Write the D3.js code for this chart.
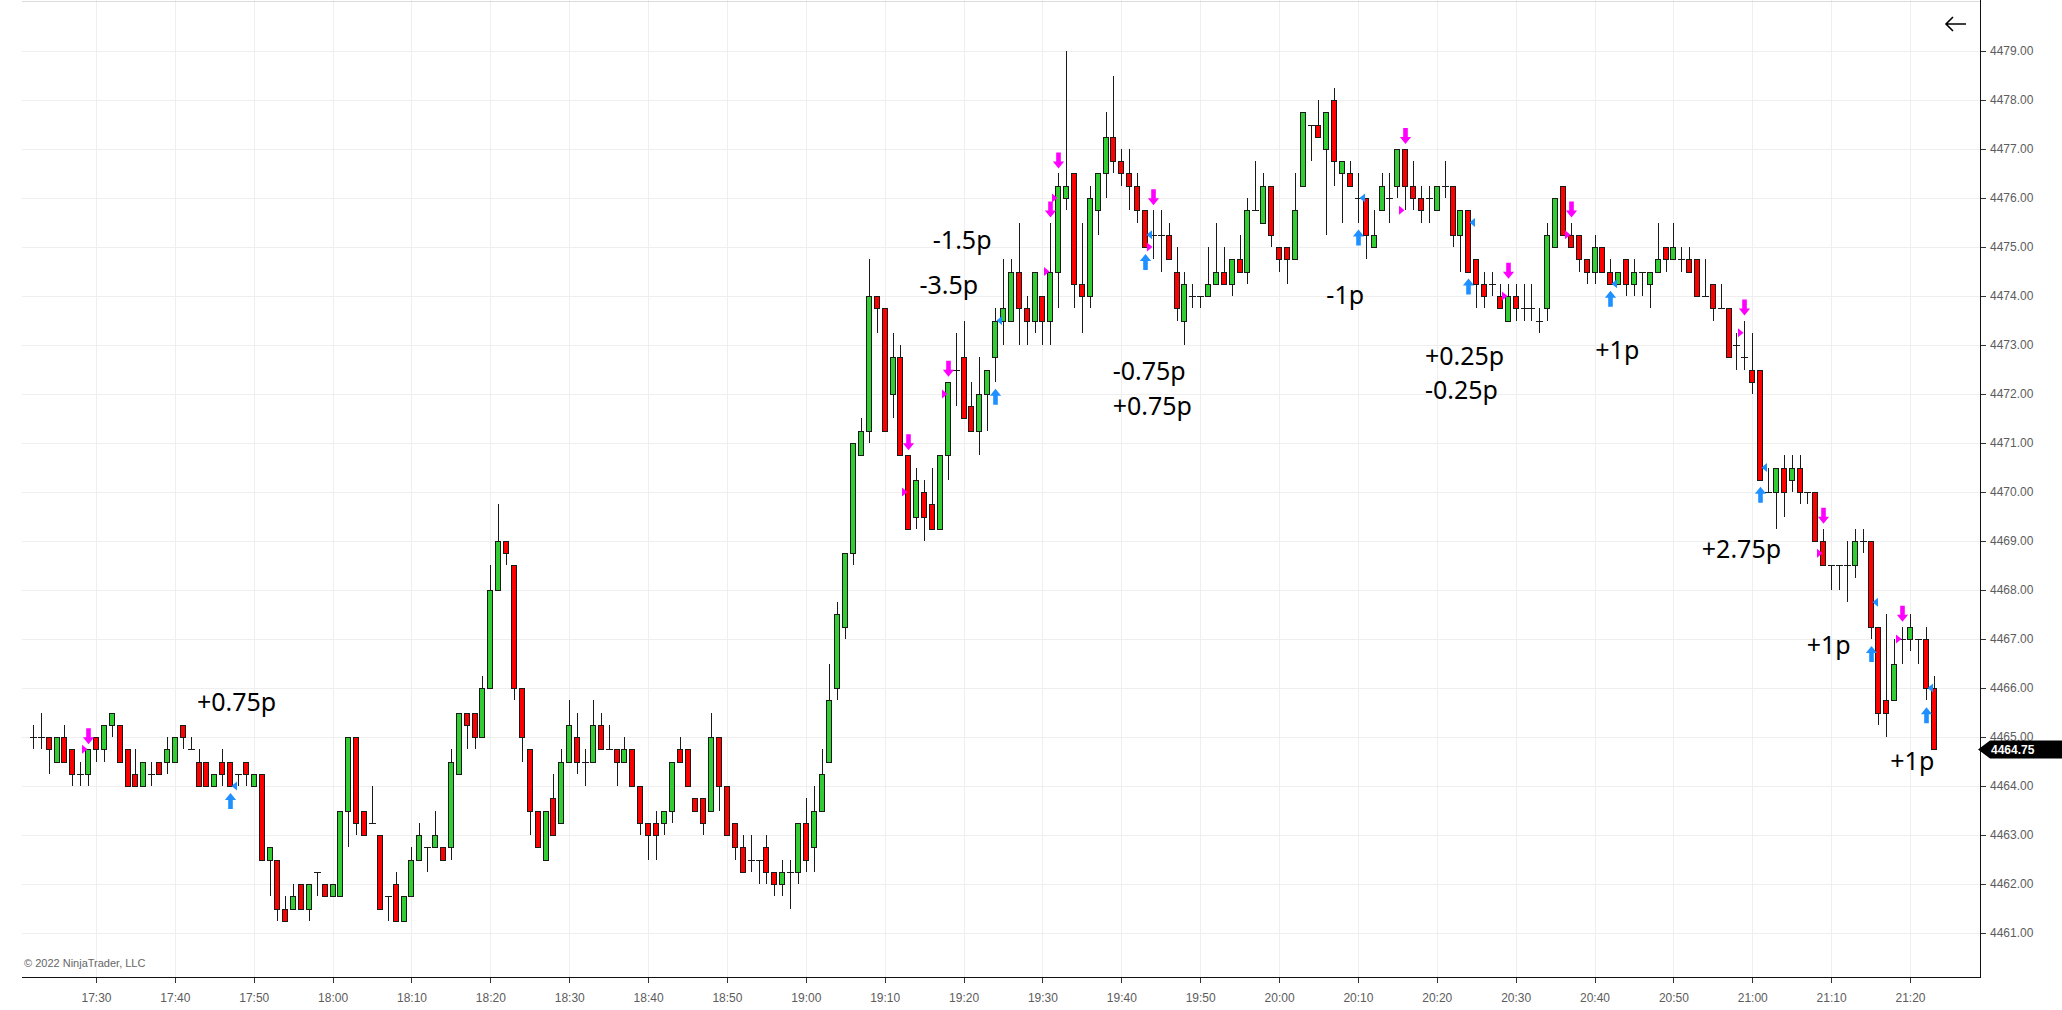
<!DOCTYPE html>
<html>
<head>
<meta charset="utf-8">
<script src="https://cdn.jsdelivr.net/npm/d3@7"></script>
<style>
html,body{margin:0;padding:0;background:#fff;overflow:hidden}
svg{display:block}
</style>
</head>
<body>
<svg id="chart" width="2062" height="1010"></svg>
<script>
// ---------------- DATA ----------------
const firstBarTime = "17:22";          // one-minute bars
const opens = [
 4465,4465,4465,4464.5,4465,4464.75,4464.25,4464.25,4465,4464.75,
 4465.25,4465.25,4464.75,4464.25,4464,4464.25,4464.5,4464.5,4464.5,4465.25,
 4464.75,4464.5,4464.5,4464,4464.5,4464.5,4464.25,4464.5,4464,4464.25,
 4462.5,4462.5,4461.5,4461.5,4462,4461.5,4462.25,4462,4461.75,4461.75,
 4463.5,4465,4463.5,4463.25,4463,4461.75,4462,4461.25,4461.75,4462.5,
 4462.75,4462.75,4462.75,4462.75,4464.25,4465.5,4465.5,4465,4466,4468,
 4469,4468.5,4466,4464.75,4463.5,4462.5,4463.75,4463.25,4464.5,4465,
 4464.5,4464.5,4465.25,4464.75,4464.75,4464.5,4464.75,4464,4463.25,4463.25,
 4463.25,4463.5,4464.75,4464.75,4463.75,4463.75,4463.5,4465,4464,4463.25,
 4462.75,4462.5,4462.5,4462.75,4462.25,4462,4462.25,4462.25,4463.25,4462.75,
 4463.5,4464.5,4466,4467.25,4468.75,4470.75,4471.25,4474,4473.75,4472,
 4472.75,4470.75,4469.5,4470,4469.75,4469.25,4470.75,4472.5,4472.75,4471.75,
 4471.25,4472,4472.75,4473.5,4473.5,4474.5,4473.75,4473.5,4474,4473.5,
 4474.5,4476,4476.5,4474.25,4474,4475.75,4476.5,4477.25,4476.75,4476.5,
 4476.25,4475.75,4475.25,4475.25,4475.25,4474.5,4473.5,4474,4474,4474,
 4474.25,4474.5,4474.25,4474.75,4474.5,4475.75,4475.5,4476.25,4475,4475,
 4474.75,4476.25,4477.5,4477.5,4477,4478,4476.5,4476.5,4476,4476,
 4475,4475.75,4476,4476.25,4477,4476.25,4476,4476,4475.75,4476.25,
 4476.25,4475.25,4475.75,4474.75,4474.25,4474.25,4474,4473.5,4474,4473.75,
 4473.75,4473.5,4473.75,4475,4476.25,4475.25,4475.25,4474.75,4474.5,4475,
 4474.5,4474.25,4474.75,4474.25,4474.5,4474.25,4474.5,4475,4474.75,4474.75,
 4474.75,4474.75,4474,4474.25,4473.75,4473.75,4473,4472.75,4472.5,4472.5,
 4470,4470,4470.5,4470.25,4470.5,4470,4470,4469,4468.5,4468.5,
 4468.5,4468.5,4469,4469,4467.25,4465.75,4465.75,4467,4467,4467,
 4467,4466
];
const highs = [
 4465.25,4465.5,4465,4465,4465.25,4464.75,4464.5,4464.75,4465,4465.25,
 4465.5,4465.25,4464.75,4464.75,4464.5,4464.5,4464.5,4465,4465,4465.25,
 4465,4464.75,4464.5,4464.25,4464.75,4464.5,4464.25,4464.5,4464.25,4464.25,
 4462.75,4462.5,4461.75,4462,4462,4462,4462.25,4462,4462,4463.5,
 4465,4465,4463.5,4464,4463,4461.75,4462.25,4461.75,4462.75,4463.25,
 4462.75,4463.5,4462.75,4464.75,4465.5,4465.5,4465.5,4466.25,4468.5,4469.75,
 4469,4468.5,4466,4464.75,4463.5,4463.5,4464.25,4464.75,4465.75,4465.5,
 4464.75,4465.75,4465.5,4465.25,4464.75,4465,4464.75,4464,4463.25,4463.5,
 4463.5,4464.5,4465,4464.75,4463.75,4463.75,4465.5,4465,4464,4463.25,
 4463,4463,4462.5,4463,4462.25,4462.5,4462.5,4463.25,4463.75,4464,
 4464.75,4466.5,4467.75,4468.75,4471,4471.5,4474.75,4474,4473.75,4473.25,
 4473,4470.75,4470.5,4470.25,4470.5,4470.75,4472.25,4473.25,4473.5,4472.25,
 4472.75,4472.5,4473.75,4474.75,4474.75,4475.5,4474,4474.5,4474,4475.5,
 4476.5,4479,4476.5,4475.5,4476.25,4476.5,4477.75,4478.5,4477,4477,
 4476.5,4475.75,4475.75,4475.75,4475.5,4475,4474.5,4474.25,4474,4475,
 4475.5,4475,4474.75,4475.25,4476,4476.75,4476.5,4476.25,4475,4475,
 4476.5,4477.75,4477.5,4478,4477.75,4478.25,4476.75,4476.75,4476.5,4476,
 4475.75,4476.5,4476.5,4477,4477,4476.75,4476.25,4476.25,4476.25,4476.75,
 4476.25,4475.75,4475.75,4474.75,4474.5,4474.5,4474.25,4474.25,4474.25,4474.25,
 4474.25,4473.75,4475.5,4476,4476.25,4475.5,4475.25,4474.75,4475.25,4475,
 4474.75,4474.5,4474.75,4474.75,4474.5,4474.5,4475.5,4475,4475.5,4475,
 4475,4474.75,4474.75,4474.25,4474.25,4473.75,4473.25,4473.5,4473.25,4472.5,
 4470.5,4470.5,4470.75,4470.75,4470.75,4470,4470,4469.25,4468.5,4468.5,
 4469,4469.25,4469.25,4469,4467.25,4467.5,4467,4467.25,4467.5,4467,
 4467.25,4466.25
];
const lows = [
 4464.75,4464.75,4464.25,4464.5,4464.5,4464,4464,4464,4464.5,4464.5,
 4465,4464.5,4464,4464,4464,4464,4464.25,4464.25,4464.5,4464.75,
 4464.75,4464,4464,4464,4464,4464,4464,4464,4464,4462.5,
 4461.75,4461.25,4461.25,4461.5,4461.5,4461.25,4461.75,4461.75,4461.75,4461.75,
 4462.75,4463,4463,4463.25,4461.5,4461.25,4461.25,4461.25,4461.75,4462.5,
 4462.25,4462.75,4462.5,4462.5,4464.25,4464.75,4464.75,4465,4466,4468,
 4468.5,4465.75,4464.5,4463,4462.75,4462.5,4463,4463.25,4464.5,4464.25,
 4464,4464.5,4464.75,4464.75,4464,4464.5,4464,4463,4462.5,4462.5,
 4463,4463.25,4464.5,4464,4463.5,4463,4463.5,4463.5,4463,4462.5,
 4462.25,4462.25,4462,4462,4461.75,4461.75,4461.5,4462,4462.25,4462.25,
 4463.5,4464.5,4465.75,4467,4468.5,4470.75,4471,4473.25,4471.25,4471.5,
 4470.75,4469.25,4469.25,4469,4469.25,4469.25,4470.25,4471.75,4471.5,4471.25,
 4470.75,4471.25,4472.25,4473,4473.5,4473,4473,4473.25,4473,4473,
 4473.75,4475.75,4473.75,4473.25,4473.75,4475.25,4476,4476.5,4476.25,4475.75,
 4475.5,4475,4474.75,4474.5,4474.75,4473.5,4473,4473.75,4473.75,4474,
 4474.25,4474.25,4474,4474.5,4474.25,4475.75,4475.5,4475,4474.5,4474.25,
 4474.75,4476.25,4476.75,4477.25,4475.25,4476.25,4475.5,4476.25,4475.5,4474.75,
 4475,4475.75,4475.5,4476,4475.75,4475.75,4475.5,4475.5,4475.75,4476,
 4475,4474.5,4474.5,4473.75,4473.75,4474,4473.75,4473.5,4473.5,4473.5,
 4473.5,4473.25,4473.5,4475,4475.25,4475,4474.5,4474.25,4474.25,4474.5,
 4474.25,4474.25,4474,4474,4474,4473.75,4474.5,4474.5,4474.75,4474.5,
 4474.5,4474,4474,4473.5,4473.75,4472.75,4472.5,4472.5,4472,4470.25,
 4470,4469.25,4469.5,4470,4469.75,4469.75,4469,4468.5,4468,4468,
 4467.75,4468.25,4468.75,4467,4465.25,4465,4465.75,4466.5,4466.75,4466.5,
 4465.75,4464.75
];
const closes = [
 4465,4465,4464.75,4465,4464.5,4464.25,4464.25,4464.75,4464.75,4465.25,
 4465.5,4464.5,4464,4464,4464.5,4464.25,4464.25,4464.75,4465,4465,
 4464.75,4464,4464,4464.25,4464.25,4464,4464.25,4464.25,4464.25,4462.5,
 4462.75,4461.5,4461.25,4461.75,4461.5,4462,4462.25,4461.75,4462,4463.5,
 4465,4463.25,4463,4463.25,4461.5,4461.75,4461.25,4461.75,4462.5,4463,
 4462.75,4463,4462.5,4464.5,4465.5,4465.25,4465,4466,4468,4469,
 4468.75,4466,4465,4463.5,4462.75,4463.5,4463,4464.5,4465.25,4464.5,
 4464.5,4465.25,4464.75,4464.75,4464.5,4464.75,4464,4463.25,4463,4463,
 4463.5,4464.5,4464.5,4464,4463.5,4463.25,4465,4464,4463,4462.75,
 4462.25,4462.5,4462.5,4462.25,4462,4462.25,4462.25,4463.25,4462.5,4463.5,
 4464.25,4465.75,4467.5,4468.75,4471,4471.25,4474,4473.75,4471.25,4472.75,
 4470.75,4469.25,4470.25,4469.5,4469.25,4470.75,4472.25,4472.5,4471.5,4471.25,
 4472,4472.5,4473.5,4473.75,4474.5,4473.75,4473.5,4474.5,4473.5,4474.5,
 4476.25,4476.25,4474.25,4474,4476,4476.5,4477.25,4476.75,4476.5,4476.25,
 4475.75,4475,4475.25,4475.25,4474.75,4473.75,4474.25,4474,4474,4474.25,
 4474.5,4474.25,4474.75,4474.5,4475.75,4475.75,4476.25,4475.25,4474.75,4474.75,
 4475.75,4477.75,4477.5,4477.25,4477.75,4476.75,4476.75,4476.25,4476,4475.25,
 4475.25,4476.25,4476,4477,4476.25,4476,4475.75,4476,4476.25,4476.25,
 4475.25,4475.75,4474.5,4474.25,4474,4474.25,4473.75,4474,4473.75,4473.75,
 4473.75,4473.5,4475.25,4476,4475.25,4475,4474.75,4474.5,4475,4474.5,
 4474.25,4474.5,4474.25,4474.5,4474.5,4474.5,4474.75,4474.75,4475,4474.75,
 4474.5,4474,4474,4473.75,4473.75,4472.75,4473,4472.75,4472.25,4470.25,
 4470,4470.5,4470,4470.5,4470,4470,4469,4468.5,4468.5,4468.5,
 4468.5,4469,4469,4467.25,4465.5,4465.5,4466.5,4467,4467.25,4467,
 4466,4464.75
];

// signals
const sellTimes  = ["17:29","19:13","19:18","19:31","19:32","19:44","20:16","20:29","20:37","20:59","21:09","21:19"];
const sellFills  = [4464.75,4470,4472,4474.5,4476,4475,4475.75,4474,4475.25,4473.25,4468.75,4467];
const buyTimes   = ["17:47","19:24","19:43","20:10","20:24","20:42","21:01","21:15","21:22"];
const buyFills   = [4464,4473.5,4475.25,4476,4475.5,4474.25,4470.5,4467.75,4466];

// profit/loss labels
const pnlTexts  = ["+0.75p","-1.5p","-3.5p","-0.75p","+0.75p","-1p","+0.25p","-0.25p","+1p","+2.75p","+1p","+1p"];
const pnlTimes  = ["17:42:48","19:16:06","19:14:24","19:38:54","19:38:54","20:06:00","20:18:30","20:18:30","20:40:06","20:53:36","21:06:54","21:17:30"];
const pnlPrices = [4465.53,4474.96,4474.04,4472.29,4471.57,4473.84,4472.59,4471.9,4472.71,4468.65,4466.69,4464.33];

// axis ticks
const priceTicks = [4461,4462,4463,4464,4465,4466,4467,4468,4469,4470,4471,4472,4473,4474,4475,4476,4477,4478,4479];
const timeTickStart = "17:30", timeTickEnd = "21:20";

// ---------------- LAYOUT ----------------
const plot = {left:22, right:1980, top:0, bottom:977};
const svg = d3.select("#chart");
const parseT = d3.timeParse("%H:%M:%S");
const pt = s => parseT(s.length === 5 ? s + ":00" : s);

const x = d3.scaleTime().domain([pt(timeTickStart), pt(timeTickEnd)]).range([96, 1910]);
const y = d3.scaleLinear().domain([4461, 4479]).range([933, 51]);

const bars = opens.map((o, i) => ({
  t: d3.timeMinute.offset(pt(firstBarTime), i),
  o, h: highs[i], l: lows[i], c: closes[i]
}));
const barAt = s => { const t = +pt(s); return bars.find(b => +b.t === t); };

const timeTicks = d3.timeMinute.every(10).range(pt(timeTickStart), d3.timeSecond.offset(pt(timeTickEnd), 1));

// grid
const grid = svg.append("g").attr("shape-rendering","crispEdges");
grid.selectAll("line.v").data(timeTicks).join("line")
  .attr("x1", d => Math.round(x(d)) + 0.5).attr("x2", d => Math.round(x(d)) + 0.5)
  .attr("y1", plot.top).attr("y2", plot.bottom)
  .attr("stroke", "#efefef");
grid.selectAll("line.h").data(priceTicks).join("line")
  .attr("x1", plot.left).attr("x2", plot.right)
  .attr("y1", d => Math.round(y(d)) + 0.5).attr("y2", d => Math.round(y(d)) + 0.5)
  .attr("stroke", "#efefef");
grid.append("line").attr("x1", plot.left).attr("x2", plot.right).attr("y1", 1).attr("y2", 1).attr("stroke", "#dcdcdc");

// axes
const yAxis = d3.axisRight(y).tickValues(priceTicks).tickFormat(d3.format(".2f")).tickSize(6).tickPadding(4);
const gy = svg.append("g").attr("transform", `translate(${plot.right},0)`).call(yAxis);
gy.select(".domain").remove();
gy.selectAll("line").attr("stroke", "#333").attr("shape-rendering","crispEdges");
gy.selectAll("text").attr("fill", "#5c5c5c").style("font", "12px 'Liberation Sans', Arial, sans-serif");

const xAxis = d3.axisBottom(x).tickValues(timeTicks).tickFormat(d3.timeFormat("%H:%M")).tickSize(6).tickPadding(10);
const gx = svg.append("g").attr("transform", `translate(0,${plot.bottom})`).call(xAxis);
gx.select(".domain").remove();
gx.selectAll("line").attr("stroke", "#333").attr("shape-rendering","crispEdges");
gx.selectAll("text").attr("fill", "#5c5c5c").style("font", "12px 'Liberation Sans', Arial, sans-serif");

svg.append("line").attr("x1", plot.right + 0.5).attr("x2", plot.right + 0.5).attr("y1", plot.top).attr("y2", plot.bottom + 0.5)
  .attr("stroke", "#111").attr("shape-rendering","crispEdges");
svg.append("line").attr("x1", plot.left).attr("x2", plot.right + 1).attr("y1", plot.bottom + 0.5).attr("y2", plot.bottom + 0.5)
  .attr("stroke", "#111").attr("shape-rendering","crispEdges");

// candles
const bw = 5;
const cg = svg.append("g").attr("shape-rendering","crispEdges");
const cxOf = b => Math.round(x(b.t));
cg.selectAll("line.wick").data(bars).join("line")
  .attr("x1", b => cxOf(b) + 0.5).attr("x2", b => cxOf(b) + 0.5)
  .attr("y1", b => Math.round(y(b.h))).attr("y2", b => Math.round(y(b.l)))
  .attr("stroke", "#1a1a1a").attr("stroke-width", 1);
cg.selectAll("rect.body").data(bars.filter(b => b.o !== b.c)).join("rect")
  .attr("x", b => cxOf(b) - 2 - 0.5)
  .attr("y", b => Math.round(y(Math.max(b.o, b.c))) + 0.5)
  .attr("width", bw)
  .attr("height", b => Math.round(y(Math.min(b.o, b.c))) - Math.round(y(Math.max(b.o, b.c))))
  .attr("fill", b => b.c > b.o ? "#32cd32" : "#ff0000")
  .attr("stroke", "#1a1a1a").attr("stroke-width", 1);
cg.selectAll("line.doji").data(bars.filter(b => b.o === b.c)).join("line")
  .attr("x1", b => cxOf(b) - 3).attr("x2", b => cxOf(b) + 4)
  .attr("y1", b => Math.round(y(b.o)) + 0.5).attr("y2", b => Math.round(y(b.o)) + 0.5)
  .attr("stroke", "#1a1a1a").attr("stroke-width", 1);

// signal markers
const mg = svg.append("g");
const downArrow = (cx, ty) => `M${cx-2.3},${ty-16}H${cx+2.3}V${ty-7}H${cx+5.6}L${cx},${ty}L${cx-5.6},${ty-7}H${cx-2.3}Z`;
const upArrow   = (cx, ty) => `M${cx-2.3},${ty+16}H${cx+2.3}V${ty+7}H${cx+5.6}L${cx},${ty}L${cx-5.6},${ty+7}H${cx-2.3}Z`;

sellTimes.forEach((s, i) => {
  const b = barAt(s), cx = cxOf(b) + 0.5;
  mg.append("path").attr("d", downArrow(cx, y(b.h) - 5)).attr("fill", "#ff00ff");
  const fy = y(sellFills[i]);
  mg.append("path").attr("d", `M${cx-1},${fy}L${cx-6.5},${fy-4.5}L${cx-6.5},${fy+4.5}Z`).attr("fill", "#ff00ff");
});
buyTimes.forEach((s, i) => {
  const b = barAt(s), cx = cxOf(b) + 0.5;
  mg.append("path").attr("d", upArrow(cx, y(b.l) + 7)).attr("fill", "#1e90ff");
  const fy = y(buyFills[i]);
  mg.append("path").attr("d", `M${cx+1},${fy}L${cx+6.5},${fy-4.5}L${cx+6.5},${fy+4.5}Z`).attr("fill", "#1e90ff");
});

// P/L labels
svg.append("g").selectAll("text").data(pnlTexts).join("text")
  .attr("x", (d, i) => x(pt(pnlTimes[i])))
  .attr("y", (d, i) => y(pnlPrices[i]))
  .attr("fill", "#000")
  .style("font", "25px 'Noto Sans', 'Open Sans', sans-serif")
  .text(d => d);

// last price marker
const last = bars[bars.length - 1];
const ly = Math.round(y(last.c)) + 0.5;
svg.append("path")
  .attr("d", `M${plot.right-2},${ly}L${plot.right+10},${ly-9}H2062V${ly+9}H${plot.right+10}Z`)
  .attr("fill", "#000");
svg.append("text").attr("x", plot.right + 11).attr("y", ly + 4.5)
  .attr("fill", "#fff").style("font", "bold 12px 'Liberation Sans', Arial, sans-serif")
  .text(d3.format(".2f")(last.c));

// back arrow icon
svg.append("path").attr("d", "M1966,24H1946M1953,17L1946,24L1953,31")
  .attr("fill", "none").attr("stroke", "#000").attr("stroke-width", 1.6);

// copyright
svg.append("text").attr("x", 24).attr("y", 967).attr("fill", "#666")
  .style("font", "11px 'Liberation Sans', Arial, sans-serif")
  .text("© 2022 NinjaTrader, LLC");
</script>
</body>
</html>
